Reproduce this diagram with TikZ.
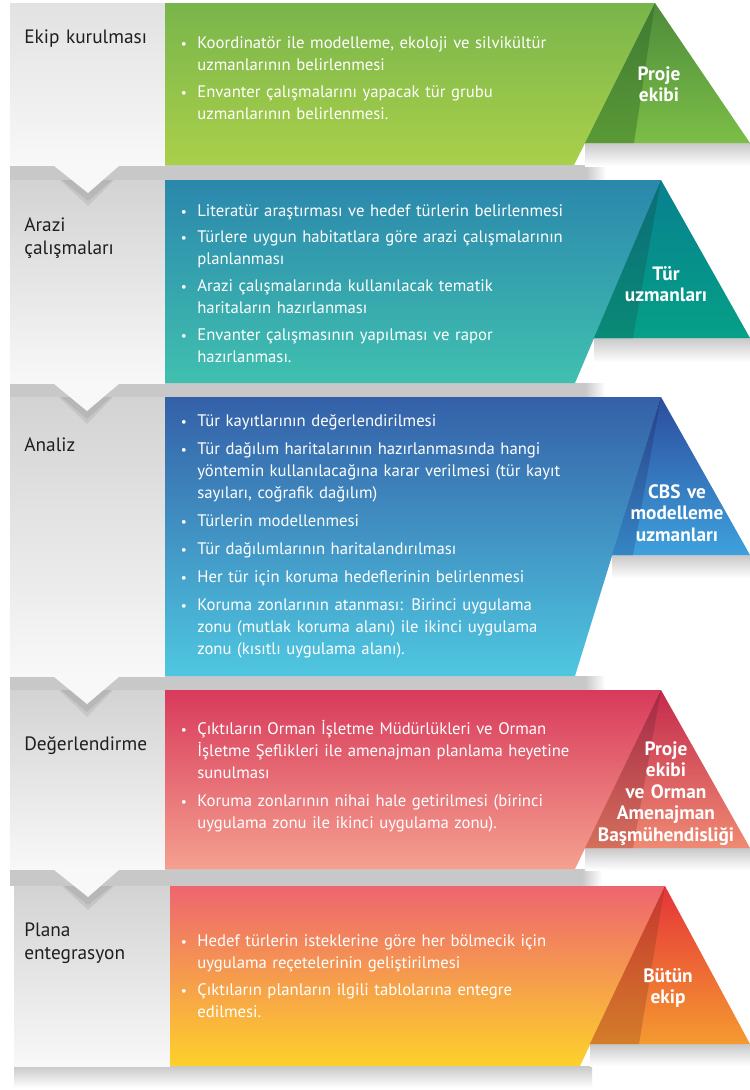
\documentclass[tikz,border=0pt]{standalone}
\usepackage{fontspec}
\setmainfont{PT Sans}

\definecolor{bandgray}{HTML}{C8C8C8}
\definecolor{boxtop}{HTML}{D3D3D3}
\definecolor{boxfirst}{HTML}{E2E2E2}
\definecolor{boxbot}{HTML}{F8F8F8}
% green
\definecolor{gpaneltop}{HTML}{79B54B}
\definecolor{gpanelbot}{HTML}{AAD04A}
\definecolor{gtritop}{HTML}{4E8B3B}
\definecolor{gtribot}{HTML}{7CBE47}
\definecolor{gstriptop}{HTML}{3F7A33}
\definecolor{gstripbot}{HTML}{5A9936}
% teal
\definecolor{tpaneltop}{HTML}{2B87AD}
\definecolor{tpanelbot}{HTML}{40C0AF}
\definecolor{ttritop}{HTML}{07808F}
\definecolor{ttribot}{HTML}{06A087}
\definecolor{tstriptop}{HTML}{0B6C79}
\definecolor{tstripbot}{HTML}{0A8A76}
% blue
\definecolor{bpaneltop}{HTML}{3460A8}
\definecolor{bpanelbot}{HTML}{4FC7E0}
\definecolor{btritop}{HTML}{2C4D9D}
\definecolor{btribot}{HTML}{3EA1DD}
\definecolor{bstriptop}{HTML}{283F88}
\definecolor{bstripbot}{HTML}{3585C3}
% red
\definecolor{rpaneltop}{HTML}{D83A5B}
\definecolor{rpanelbot}{HTML}{F5A08F}
\definecolor{rtritop}{HTML}{C42A4C}
\definecolor{rtribot}{HTML}{EF8A73}
\definecolor{rstriptop}{HTML}{A52746}
\definecolor{rstripbot}{HTML}{D46F5B}
% orange
\definecolor{opaneltop}{HTML}{EE6570}
\definecolor{opanelmid}{HTML}{F8A455}
\definecolor{opanelbot}{HTML}{FDD12B}
\definecolor{otritop}{HTML}{E5343A}
\definecolor{otribot}{HTML}{F59A30}
\definecolor{ostriptop}{HTML}{C63530}
\definecolor{ostripbot}{HTML}{D37D2A}

\newcommand\blt{\llap{\scalebox{.8}{\textbullet}\hspace{6pt}}}

\tikzset{
  band/.style={fill=bandgray},
  greybox/.style={top color=boxtop, bottom color=boxbot},
  notch/.style={fill=boxbot},
  notchshadow/.style={fill=black, opacity=.07},
  lbl/.style={anchor=base west, inner sep=0pt, text width=2.9cm, align=left,
    font=\fontsize{11}{13.4}\selectfont, text=black!88},
  itm/.style={anchor=base west, inner sep=0pt, text width=8.4cm, align=left,
    font=\fontsize{9.5}{12.7}\selectfont, text=white},
  tag/.style={anchor=base, inner sep=0pt, text width=3cm, align=center,
    font=\bfseries\fontsize{11}{12.3}\selectfont, text=white},
}

\begin{document}
\begin{tikzpicture}[x=0.02cm, y=-0.02cm]
\useasboundingbox[fill=white] (0,0) rectangle (750,1090);

% shadows between the stages
\fill[band] (10,165) rectangle (586,180);
\shade[left color=bandgray, right color=white] (586,165) rectangle (606,180);
\shade[top color=bandgray, bottom color=white] (585,143) rectangle (750,166);
\fill[band] (10,383) rectangle (585,397);
\shade[left color=bandgray, right color=white] (585,383) rectangle (605,397);
\shade[top color=bandgray, bottom color=white] (594,338) rectangle (750,362);
\fill[band] (10,676) rectangle (585,690);
\shade[left color=bandgray, right color=white] (585,676) rectangle (605,690);
\shade[top color=bandgray, bottom color=white] (612,555) rectangle (750,578);
\fill[band] (10,869) rectangle (582,886);
\shade[left color=bandgray, right color=white] (582,869) rectangle (602,886);
\shade[top color=bandgray, bottom color=white] (585,848) rectangle (750,870);
\shade[top color=bandgray, bottom color=white] (14,1066) rectangle (592,1088);
\shade[top color=bandgray, bottom color=white] (590,1044) rectangle (750,1066);

% stage 1
\shade[top color=boxfirst, bottom color=boxbot] (10,3) rectangle (165,165);
\shade[top color=gpaneltop, bottom color=gpanelbot]
  (165,3) -- (655,3) -- (574,165) -- (165,165) -- cycle;
\shade[top color=gtritop, bottom color=gtribot] (655,3) -- (750,143) -- (585,143) -- cycle;
\shade[top color=gstriptop, bottom color=gstripbot] (655,3) -- (634,143) -- (585,143) -- cycle;

% stage 2
\shade[greybox] (10,180) rectangle (165,383);
\shade[top color=tpaneltop, bottom color=tpanelbot]
  (165,180) -- (661,180) -- (575,383) -- (165,383) -- cycle;
\shade[top color=ttritop, bottom color=ttribot] (661,180) -- (750,338) -- (594,338) -- cycle;
\shade[top color=tstriptop, bottom color=tstripbot] (661,180) -- (633,338) -- (594,338) -- cycle;

% stage 3
\shade[greybox] (10,397) rectangle (165,676);
\shade[top color=bpaneltop, bottom color=bpanelbot]
  (165,397) -- (661,397) -- (575,676) -- (165,676) -- cycle;
\shade[top color=btritop, bottom color=btribot] (661,397) -- (750,555) -- (612,555) -- cycle;
\shade[top color=bstriptop, bottom color=bstripbot] (661,397) -- (633,555) -- (612,555) -- cycle;

% stage 4
\shade[greybox] (10,690) rectangle (165,869);
\shade[top color=rpaneltop, bottom color=rpanelbot]
  (165,690) -- (661,690) -- (575,869) -- (165,869) -- cycle;
\shade[top color=rtritop, bottom color=rtribot] (661,690) -- (750,848) -- (585,848) -- cycle;
\shade[top color=rstriptop, bottom color=rstripbot] (661,690) -- (633,848) -- (585,848) -- cycle;

% stage 5
\shade[greybox] (14,886) rectangle (170,1066);
\shade[top color=opaneltop, middle color=opanelmid, bottom color=opanelbot]
  (170,886) -- (665,886) -- (580,1066) -- (170,1066) -- cycle;
\shade[top color=otritop, bottom color=otribot] (665,886) -- (750,1044) -- (590,1044) -- cycle;
\shade[top color=ostriptop, bottom color=ostripbot] (665,886) -- (639,1044) -- (590,1044) -- cycle;

% notches pointing to the next stage
\fill[notchshadow] (60,180) -- (114,180) -- (88,206) -- cycle;
\fill[notchshadow] (62,180) -- (112,180) -- (88,201) -- cycle;
\fill[notch] (53,165) -- (120,165) -- (88,193) -- cycle;
\fill[notchshadow] (59,397) -- (113,397) -- (87,424) -- cycle;
\fill[notchshadow] (61,397) -- (111,397) -- (87,419) -- cycle;
\fill[notch] (53,383) -- (120,383) -- (87,411) -- cycle;
\fill[notchshadow] (59,690) -- (113,690) -- (87,717) -- cycle;
\fill[notchshadow] (61,690) -- (111,690) -- (87,712) -- cycle;
\fill[notch] (53,676) -- (120,676) -- (87,704) -- cycle;
\fill[notchshadow] (62,886) -- (114,886) -- (88,910) -- cycle;
\fill[notchshadow] (64,886) -- (112,886) -- (88,905) -- cycle;
\fill[notch] (53,869) -- (120,869) -- (88,897) -- cycle;

% stage names
\node[lbl] (ekip) at (24,43) {Ekip kurulması};
\node[lbl] (arazi) at (24,231) {Arazi\\çalışmaları};
\node[lbl] (analiz) at (24,451) {Analiz};
\node[lbl] (deger) at (24,750) {Değerlendirme};
\node[lbl] (plana) at (24,936) {Plana\\entegrasyon};

% tasks
\node[itm] (ekipa) at (197,48) {\blt Koordinatör ile modelleme, ekoloji ve silvikültür\\uzmanlarının belirlenmesi};
\node[itm] (ekipb) at (197,97) {\blt Envanter çalışmalarını yapacak tür grubu\\uzmanlarının belirlenmesi.};

\node[itm] (arazia) at (197,216) {\blt Literatür araştırması ve hedef türlerin belirlenmesi};
\node[itm] (arazib) at (197,242) {\blt Türlere uygun habitatlara göre arazi çalışmalarının\\planlanması};
\node[itm] (arazic) at (197,291) {\blt Arazi çalışmalarında kullanılacak tematik\\haritaların hazırlanması};
\node[itm] (arazid) at (197,340) {\blt Envanter çalışmasının yapılması ve rapor\\hazırlanması.};

\node[itm] (analiza) at (197,426) {\blt Tür kayıtlarının değerlendirilmesi};
\node[itm] (analizb) at (197,454) {\blt Tür dağılım haritalarının hazırlanmasında hangi\\yöntemin kullanılacağına karar verilmesi (tür kayıt\\sayıları, coğrafik dağılım)};
\node[itm] (analizc) at (197,526) {\blt Türlerin modellenmesi};
\node[itm] (analizd) at (197,554) {\blt Tür dağılımlarının haritalandırılması};
\node[itm] (analize) at (197,582) {\blt Her tür için koruma hedeflerinin belirlenmesi};
\node[itm] (analizf) at (197,610) {\blt Koruma zonlarının atanması: Birinci uygulama\\zonu (mutlak koruma alanı) ile ikinci uygulama\\zonu (kısıtlı uygulama alanı).};

\node[itm] (degera) at (197,734) {\blt Çıktıların Orman İşletme Müdürlükleri ve Orman\\İşletme Şeflikleri ile amenajman planlama heyetine\\sunulması};
\node[itm] (degerb) at (197,806) {\blt Koruma zonlarının nihai hale getirilmesi (birinci\\uygulama zonu ile ikinci uygulama zonu).};

\node[itm] (planaa) at (197,946) {\blt Hedef türlerin isteklerine göre her bölmecik için\\uygulama reçetelerinin geliştirilmesi};
\node[itm] (planab) at (197,995) {\blt Çıktıların planların ilgili tablolarına entegre\\edilmesi.};

% who takes part
\node[tag] (proje) at (659,80) {Proje\\ekibi};
\node[tag] (turuzm) at (666,280) {Tür\\uzmanları};
\node[tag] (cbs) at (677,498) {CBS ve\\modelleme\\uzmanları};
\node[tag] (heyet) at (666,755) {Proje\\ekibi\\ve Orman\\Amenajman\\Başmühendisliği};
\node[tag] (butun) at (668,982) {Bütün\\ekip};
\end{tikzpicture}
\end{document}
